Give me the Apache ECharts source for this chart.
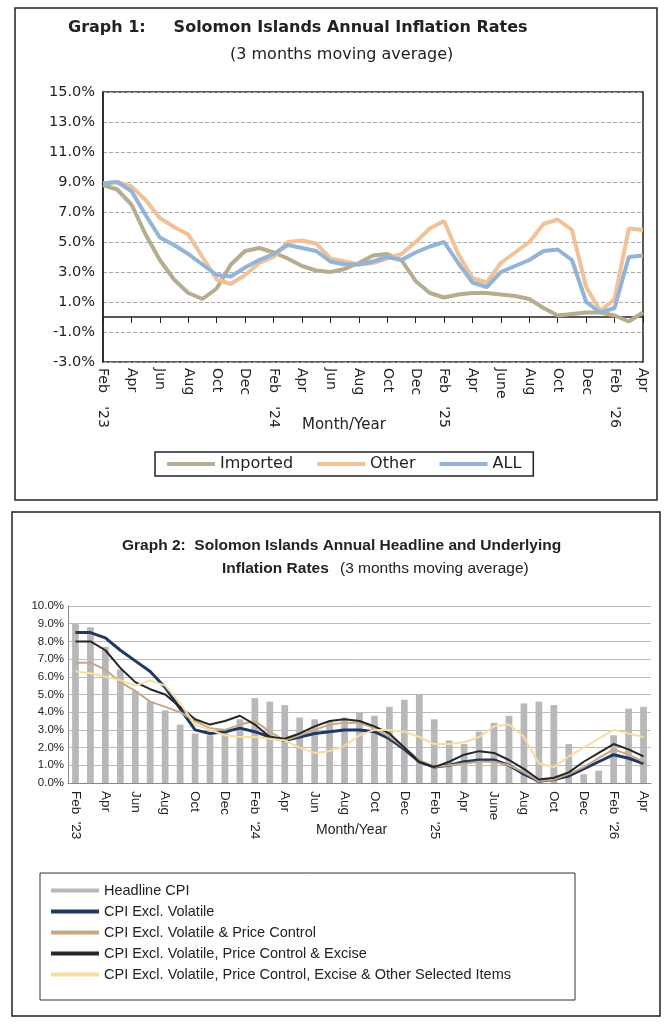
<!DOCTYPE html>
<html><head><meta charset="utf-8">
<script src="https://cdn.jsdelivr.net/npm/echarts@6/dist/echarts.min.js"></script>
<style>html,body{margin:0;padding:0;background:#fff}#c{width:671px;height:1024px}</style>
</head><body><div id="c"></div>
<script>
const months = ["Feb '23","Mar","Apr","May","Jun","Jul","Aug","Sep","Oct","Nov","Dec","Jan","Feb '24","Mar","Apr","May","Jun","Jul","Aug","Sep","Oct","Nov","Dec","Jan","Feb '25","Mar","Apr","May","June","Jul","Aug","Sep","Oct","Nov","Dec","Jan","Feb '26","Mar","Apr"];
const imported = [8.8,8.5,7.5,5.5,3.8,2.5,1.6,1.2,1.9,3.5,4.4,4.6,4.3,3.9,3.4,3.1,3.0,3.2,3.6,4.1,4.2,3.8,2.4,1.6,1.3,1.5,1.6,1.6,1.5,1.4,1.2,0.6,0.1,0.2,0.3,0.3,0.1,-0.3,0.3];
const other = [8.9,9.0,8.7,7.8,6.6,6.0,5.5,4.0,2.5,2.2,2.8,3.6,4.0,5.0,5.1,4.9,3.9,3.7,3.5,3.6,3.9,4.2,5.0,5.9,6.4,4.2,2.6,2.3,3.6,4.3,5.0,6.2,6.5,5.8,2.0,0.4,1.2,5.9,5.8];
const all = [8.9,9.0,8.4,6.8,5.3,4.8,4.2,3.5,2.8,2.7,3.3,3.8,4.2,4.8,4.6,4.4,3.7,3.5,3.5,3.7,4.0,3.8,4.3,4.7,5.0,3.6,2.3,2.0,3.0,3.4,3.8,4.4,4.5,3.8,1.0,0.3,0.6,4.0,4.1];
const headline = [9.0,8.8,7.7,6.4,5.2,4.6,4.1,3.3,2.8,2.7,2.9,3.6,4.8,4.6,4.4,3.7,3.6,3.5,3.7,4.0,3.8,4.3,4.7,5.0,3.6,2.4,2.2,2.9,3.4,3.8,4.5,4.6,4.4,2.2,0.5,0.7,2.7,4.2,4.3];
const exVol = [8.5,8.5,8.2,7.5,6.9,6.3,5.4,4.2,3.0,2.8,2.9,3.1,2.9,2.6,2.4,2.6,2.8,2.9,3.0,3.0,2.9,2.5,1.9,1.2,0.9,1.0,1.2,1.3,1.3,1.0,0.5,0.1,0.2,0.4,0.8,1.2,1.6,1.4,1.1];
const exVolPC = [6.8,6.8,6.4,5.7,5.2,4.6,4.3,4.0,3.5,3.1,3.0,3.3,3.5,2.9,2.4,2.7,3.0,3.3,3.4,3.4,3.1,2.6,2.0,1.3,0.9,1.0,1.1,1.2,1.2,1.0,0.6,0.1,0.2,0.5,0.9,1.4,1.9,1.6,1.2];
const exVolPCEx = [8.0,8.0,7.5,6.5,5.7,5.3,5.0,4.3,3.6,3.3,3.5,3.8,3.3,2.6,2.5,2.8,3.2,3.5,3.6,3.5,3.2,2.8,2.0,1.2,0.9,1.2,1.6,1.8,1.7,1.3,0.8,0.2,0.3,0.6,1.2,1.7,2.2,1.9,1.5];
const exOther = [6.3,6.2,6.0,5.8,5.5,5.8,5.5,4.5,3.3,3.0,2.7,2.6,2.6,2.5,2.4,2.0,1.7,1.8,2.1,2.7,3.0,3.0,2.9,2.6,2.2,2.2,2.3,2.6,3.2,3.3,2.6,1.1,0.9,1.5,2.0,2.5,3.0,2.8,2.6];

const f = 'Liberation Sans, Arial, sans-serif';
const d = 'DejaVu Sans, Verdana, sans-serif';
const chart = echarts.init(document.getElementById('c'));
const pct = v => v.toFixed(1) + '%';
const l1 = (name, data, color) => ({type:'line', name, data, xAxisIndex:0, yAxisIndex:0, symbol:'none', lineStyle:{width:4, color}, itemStyle:{color}});
const l2 = (name, data, color, w) => ({type:'line', name, data, xAxisIndex:1, yAxisIndex:1, symbol:'none', lineStyle:{width:w, color}, itemStyle:{color}, z:3});
const txt = (x, y, text, font) => ({type:'text', x, y, style:{text, font, fill:'#222'}});
chart.setOption({
  animation:false,
  graphic:[
    {type:'rect', shape:{x:15,y:8,width:642,height:492}, style:{fill:'none', stroke:'#222', lineWidth:1.5}},
    {type:'rect', shape:{x:12,y:512,width:648,height:504}, style:{fill:'none', stroke:'#222', lineWidth:1.5}},
    txt(68, 20, 'Graph 1:     Solomon Islands Annual Inflation Rates', 'bold 16px '+d),
    txt(230, 47, '(3 months moving average)', '16px '+d),
    txt(302, 418, 'Month/Year', '15px '+d),
    txt(122, 538, 'Graph 2:  Solomon Islands Annual Headline and Underlying', 'bold 15.5px '+f),
    txt(222, 561, 'Inflation Rates', 'bold 15.5px '+f),
    txt(340, 561, '(3 months moving average)', '15.5px '+f),
    txt(316, 823, 'Month/Year', '14px '+f),
    {type:'rect', shape:{x:40,y:873,width:535,height:127}, style:{fill:'none', stroke:'#333', lineWidth:1}}
  ],
  grid:[
    {left:103, right:28, top:92, height:270, show:true, borderColor:'#222', borderWidth:1.5},
    {left:68, right:20, top:606, height:177}
  ],
  legend:[
    {data:['Imported','Other','ALL'], left:155, top:452, width:380, padding:[4,12], itemGap:24, borderColor:'#222', borderWidth:1.5, icon:'rect', itemWidth:48, itemHeight:4, textStyle:{fontFamily:d, fontSize:16, color:'#222'}},
    {data:[{name:'Headline CPI', icon:'rect'}, 'CPI Excl. Volatile','CPI Excl. Volatile & Price Control','CPI Excl. Volatile, Price Control & Excise','CPI Excl. Volatile, Price Control, Excise & Other Selected Items'], orient:'vertical', left:46, top:878, itemGap:6, icon:'rect', itemWidth:48, itemHeight:4, textStyle:{fontFamily:f, fontSize:14.5, color:'#222'}}
  ],
  xAxis:[
    {type:'category', gridIndex:0, data:months, boundaryGap:false, axisLine:{onZero:true, lineStyle:{color:'#222', width:1.5}}, axisTick:{alignWithLabel:true, interval:1, length:6, lineStyle:{color:'#222'}}, axisLabel:{interval:1, rotate:-90, fontFamily:d, fontSize:14, color:'#222', margin:6, formatter:v=>v.replace(" '", "   '")}},
    {type:'category', gridIndex:1, data:months, axisLine:{lineStyle:{color:'#888'}}, axisTick:{show:false}, axisLabel:{interval:1, rotate:-90, fontFamily:f, fontSize:13.5, color:'#222', margin:8, formatter:v=>v.replace(" '", "  '")}}
  ],
  yAxis:[
    {type:'value', gridIndex:0, min:-3, max:15, interval:2, axisLine:{show:true, lineStyle:{color:'#222', width:1.5}}, axisTick:{show:false}, splitLine:{lineStyle:{type:'dashed', color:'#aaa'}}, axisLabel:{formatter:pct, fontFamily:d, fontSize:14.5, color:'#222', margin:8}},
    {type:'value', gridIndex:1, min:0, max:10, interval:1, axisLine:{show:true, lineStyle:{color:'#888'}}, splitLine:{lineStyle:{color:'#bbb'}}, axisLabel:{formatter:pct, fontFamily:f, fontSize:11.5, color:'#222', margin:4}}
  ],
  series:[
    l1('Imported', imported, '#b5ad8e'),
    l1('Other', other, '#f1c197'),
    l1('ALL', all, '#93b3d7'),
    {type:'bar', name:'Headline CPI', data:headline, xAxisIndex:1, yAxisIndex:1, barWidth:'45%', itemStyle:{color:'#b8b8b8'}},
    l2('CPI Excl. Volatile', exVol, '#1f3864', 3),
    l2('CPI Excl. Volatile & Price Control', exVolPC, '#c8a884', 2),
    l2('CPI Excl. Volatile, Price Control & Excise', exVolPCEx, '#262626', 2),
    l2('CPI Excl. Volatile, Price Control, Excise & Other Selected Items', exOther, '#f8dca0', 2)
  ]
});
</script></body></html>
